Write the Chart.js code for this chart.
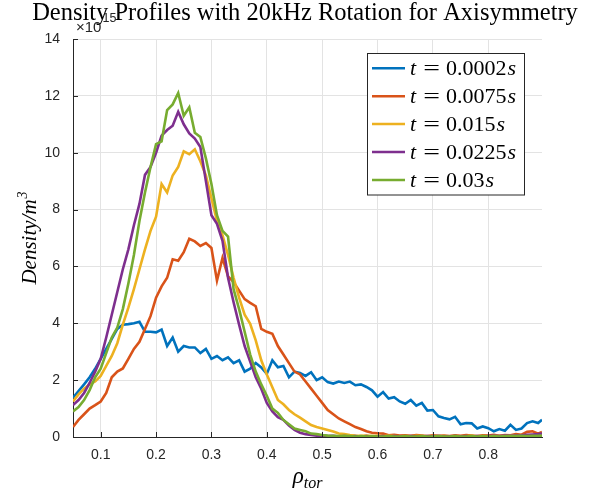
<!DOCTYPE html>
<html>
<head>
<meta charset="utf-8">
<script src="https://cdn.jsdelivr.net/npm/chart.js@4.4.1/dist/chart.umd.min.js"></script>
<style>
  html, body { margin: 0; padding: 0; background: #fff; }
</style>
</head>
<body>
<canvas id="densityChart" width="604" height="498"></canvas>
<script>
// rho_tor sample positions
const rho = [
  0.05, 0.06, 0.07, 0.08, 0.09, 0.10, 0.11, 0.12, 0.13, 0.14,
  0.15, 0.16, 0.17, 0.18, 0.19, 0.20, 0.21, 0.22, 0.23, 0.24,
  0.25, 0.26, 0.27, 0.28, 0.29, 0.30, 0.31, 0.32, 0.33, 0.34,
  0.35, 0.36, 0.37, 0.38, 0.39, 0.40, 0.41, 0.42, 0.43, 0.44,
  0.45, 0.46, 0.47, 0.48, 0.49, 0.50, 0.51, 0.52, 0.53, 0.54,
  0.55, 0.56, 0.57, 0.58, 0.59, 0.60, 0.61, 0.62, 0.63, 0.64,
  0.65, 0.66, 0.67, 0.68, 0.69, 0.70, 0.71, 0.72, 0.73, 0.74,
  0.75, 0.76, 0.77, 0.78, 0.79, 0.80, 0.81, 0.82, 0.83, 0.84,
  0.85, 0.86, 0.87, 0.88, 0.89, 0.897
];

// density in units of 1e15 m^-3
const dens_t0002 = [
  1.38, 1.62, 1.85, 2.1, 2.4, 2.75, 3.1, 3.45, 3.8, 3.95,
  3.97, 4.0, 4.05, 3.7, 3.7, 3.68, 3.78, 3.2, 3.5, 3.0,
  3.2, 3.15, 3.15, 2.95, 3.1, 2.75, 2.85, 2.7, 2.8, 2.6,
  2.7, 2.3, 2.4, 2.6, 2.45, 2.22, 2.7, 2.45, 2.5, 2.1,
  2.3, 2.25, 2.15, 2.28, 2.0, 2.1, 1.93, 1.88, 1.95, 1.9,
  1.95, 1.82, 1.85, 1.76, 1.64, 1.42, 1.58, 1.35, 1.4, 1.25,
  1.17, 1.3, 1.1, 1.2, 0.93, 0.95, 0.73, 0.67, 0.62, 0.71,
  0.45, 0.49, 0.48, 0.3, 0.37, 0.31, 0.2, 0.28, 0.22, 0.43,
  0.25, 0.3, 0.49, 0.55, 0.49, 0.61
];
const dens_t0075 = [
  0.35, 0.6, 0.8, 1.0, 1.12, 1.25, 1.55, 2.1, 2.3, 2.41,
  2.75, 3.1, 3.35, 3.8, 4.25, 4.9, 5.3, 5.6, 6.25, 6.2,
  6.5, 6.97, 6.88, 6.72, 6.82, 6.65, 5.5, 6.3, 5.65, 5.45,
  5.15, 4.85, 4.72, 4.6, 3.8, 3.7, 3.63, 3.2, 2.9, 2.6,
  2.3, 2.2, 1.95, 1.7, 1.45, 1.2, 0.95, 0.8, 0.65, 0.55,
  0.45, 0.35, 0.28, 0.2, 0.15, 0.13, 0.12, 0.06, 0.08, 0.05,
  0.06, 0.04, 0.07, 0.05, 0.03, 0.06, 0.04, 0.05, 0.03, 0.06,
  0.04, 0.07, 0.05, 0.03, 0.06, 0.05, 0.08, 0.04, 0.07, 0.06,
  0.1, 0.08, 0.18, 0.2, 0.12, 0.18
];
const dens_t015 = [
  1.25, 1.5, 1.7, 1.85, 1.95, 2.15, 2.5, 2.85, 3.3, 3.95,
  4.55, 5.2, 5.9, 6.6, 7.25, 7.75, 8.9, 8.6, 9.2, 9.5,
  10.05, 9.95, 10.12, 9.7, 9.2, 8.4, 7.6, 7.1, 6.4, 5.6,
  4.9, 4.3, 3.98, 3.4, 2.7, 2.2, 1.75, 1.3, 1.15, 0.95,
  0.8, 0.68, 0.55, 0.42, 0.35, 0.3, 0.25, 0.19, 0.12, 0.1,
  0.07, 0.05, 0.04, 0.05, 0.03, 0.04, 0.03, 0.04, 0.03, 0.02,
  0.03, 0.02, 0.04, 0.03, 0.02, 0.03, 0.02, 0.03, 0.02, 0.03,
  0.02, 0.03, 0.04, 0.02, 0.03, 0.02, 0.03, 0.04, 0.03, 0.04,
  0.05, 0.04, 0.06, 0.05, 0.07, 0.06
];
const dens_t0225 = [
  1.12, 1.3, 1.55, 1.9, 2.3, 2.75, 3.5, 4.3, 5.1, 5.9,
  6.6, 7.45, 8.2, 9.22, 9.5, 10.0, 10.6, 10.8, 10.95, 11.44,
  11.0, 10.68, 10.5, 10.2, 9.0, 7.8, 7.5, 6.9, 5.6, 4.74,
  3.95, 3.2, 2.65, 2.1, 1.7, 1.2, 0.9, 0.7, 0.6, 0.4,
  0.25, 0.15, 0.1, 0.07, 0.05, 0.04, 0.03, 0.04, 0.02, 0.03,
  0.02, 0.03, 0.02, 0.03, 0.02, 0.02, 0.03, 0.02, 0.03, 0.02,
  0.02, 0.03, 0.02, 0.02, 0.03, 0.02, 0.03, 0.02, 0.02, 0.03,
  0.02, 0.03, 0.02, 0.03, 0.02, 0.03, 0.04, 0.03, 0.05, 0.04,
  0.05, 0.06, 0.08, 0.09, 0.1, 0.12
];
const dens_t03 = [
  0.9, 1.05, 1.3, 1.65, 2.1, 2.4, 2.95, 3.5, 3.85, 4.5,
  5.4, 6.4, 7.6, 8.6, 9.5, 10.3, 10.4, 11.5, 11.7, 12.1,
  11.3, 11.6, 10.7, 10.55, 9.8, 8.9, 7.8, 7.25, 7.05, 5.2,
  4.5, 3.7, 2.9, 2.3, 1.85, 1.45, 1.0, 0.85, 0.6, 0.45,
  0.3, 0.25, 0.2, 0.12, 0.1, 0.07, 0.05, 0.04, 0.03, 0.04,
  0.03, 0.02, 0.03, 0.02, 0.03, 0.02, 0.02, 0.03, 0.02, 0.02,
  0.03, 0.02, 0.02, 0.03, 0.02, 0.02, 0.03, 0.02, 0.02, 0.03,
  0.02, 0.02, 0.03, 0.02, 0.03, 0.02, 0.03, 0.02, 0.03, 0.03,
  0.03, 0.04, 0.03, 0.04, 0.04, 0.05
];

const times = ['0.0002', '0.0075', '0.015', '0.0225', '0.03'];
const series = [dens_t0002, dens_t0075, dens_t015, dens_t0225, dens_t03];
const colors = ['#0072BD', '#D95319', '#EDB120', '#7E2F8E', '#77AC30'];
const xTicks = [0.1, 0.2, 0.3, 0.4, 0.5, 0.6, 0.7, 0.8];
const yTicks = [0, 2, 4, 6, 8, 10, 12, 14];

const SERIF = '"Liberation Serif", "DejaVu Serif", serif';
const SANS = '"Liberation Sans", Arial, sans-serif';
const AXIS_COLOR = '#262626';

// title, axis labels, exponent, inward ticks, legend box (matlab look)
const matlabDecor = {
  id: 'matlabDecor',
  afterDraw(chart) {
    const ctx = chart.ctx;
    const area = chart.chartArea;
    const xs = chart.scales.x, ys = chart.scales.y;
    ctx.save();

    // inward ticks
    ctx.strokeStyle = AXIS_COLOR;
    ctx.lineWidth = 1;
    ctx.beginPath();
    yTicks.forEach(v => {
      const py = Math.round(ys.getPixelForValue(v)) + 0.5;
      ctx.moveTo(area.left, py);
      ctx.lineTo(area.left + 5, py);
    });
    xTicks.forEach(v => {
      const px = Math.round(xs.getPixelForValue(v)) + 0.5;
      ctx.moveTo(px, area.bottom);
      ctx.lineTo(px, area.bottom - 5);
    });
    ctx.stroke();

    // title
    ctx.fillStyle = '#000';
    ctx.textBaseline = 'alphabetic';
    ctx.textAlign = 'center';
    ctx.font = '24.5px ' + SERIF;
    ctx.fillText('Density Profiles with 20kHz Rotation for Axisymmetry', 305, 20);

    // exponent label
    ctx.fillStyle = AXIS_COLOR;
    ctx.textAlign = 'left';
    ctx.font = '15px ' + SANS;
    ctx.fillText('\u00d710', 76, 32);
    const wx = ctx.measureText('\u00d710').width;
    ctx.font = '12.5px ' + SANS;
    ctx.fillText('15', 76 + wx + 1, 22);

    // y label
    ctx.fillStyle = '#000';
    ctx.save();
    ctx.translate(36, (area.top + area.bottom) / 2);
    ctx.rotate(-Math.PI / 2);
    ctx.font = 'italic 21px ' + SERIF;
    const w1 = ctx.measureText('Density/m').width;
    ctx.font = 'italic 14px ' + SERIF;
    const w2 = ctx.measureText('3').width;
    const start = -(w1 + w2 + 1) / 2;
    ctx.font = 'italic 21px ' + SERIF;
    ctx.fillText('Density/m', start, 0);
    ctx.font = 'italic 14px ' + SERIF;
    ctx.fillText('3', start + w1 + 1, -9);
    ctx.restore();

    // x label
    const cx = (area.left + area.right) / 2;
    ctx.font = 'italic 23px ' + SERIF;
    const wr = ctx.measureText('\u03c1').width;
    ctx.font = 'italic 16px ' + SERIF;
    const wt = ctx.measureText('tor').width;
    const sx = cx - (wr + wt) / 2;
    ctx.font = 'italic 23px ' + SERIF;
    ctx.fillText('\u03c1', sx, 483);
    ctx.font = 'italic 16px ' + SERIF;
    ctx.fillText('tor', sx + wr, 488);

    // legend
    const lx = 367.5, ly = 53.5, lw = 157, lh = 141.5;
    ctx.fillStyle = '#fff';
    ctx.fillRect(lx, ly, lw, lh);
    ctx.strokeStyle = AXIS_COLOR;
    ctx.lineWidth = 1;
    ctx.strokeRect(lx, ly, lw, lh);
    chart.data.datasets.forEach((ds, i) => {
      const rowY = 68.3 + i * 27.9;
      ctx.strokeStyle = ds.borderColor;
      ctx.lineWidth = 2.5;
      ctx.beginPath();
      ctx.moveTo(372, rowY);
      ctx.lineTo(405, rowY);
      ctx.stroke();
      const by = rowY + 7;
      ctx.fillStyle = '#000';
      ctx.textAlign = 'left';
      ctx.font = 'italic 22px ' + SERIF;
      ctx.fillText('t', 410, by);
      ctx.font = '22px ' + SERIF;
      ctx.save();
      ctx.translate(431.5, by);
      ctx.scale(1.35, 1);
      ctx.textAlign = 'center';
      ctx.fillText('=', 0, 0);
      ctx.restore();
      ctx.textAlign = 'left';
      ctx.fillText(times[i], 446, by);
      const wn = ctx.measureText(times[i]).width;
      ctx.font = 'italic 22px ' + SERIF;
      ctx.fillText('s', 446 + wn + 1, by);
    });

    ctx.restore();
  }
};

new Chart(document.getElementById('densityChart'), {
  type: 'line',
  data: {
    datasets: series.map((vals, i) => ({
      label: 't = ' + times[i] + 's',
      data: rho.map((x, j) => ({x: x, y: vals[j]})),
      borderColor: colors[i],
      backgroundColor: colors[i],
      borderWidth: 2.6,
      pointRadius: 0,
      tension: 0,
      fill: false,
      order: series.length - 1 - i
    }))
  },
  options: {
    responsive: false,
    animation: false,
    events: [],
    layout: {padding: {top: 39, right: 62, bottom: 0, left: 0}},
    plugins: {
      legend: {display: false},
      title: {display: false},
      tooltip: {enabled: false}
    },
    scales: {
      x: {
        type: 'linear',
        min: 0.05,
        max: 0.897,
        afterBuildTicks: s => { s.ticks = xTicks.map(v => ({value: v})); },
        afterFit: s => { s.height = 61; },
        ticks: {
          autoSkip: false,
          maxRotation: 0,
          padding: 10,
          color: AXIS_COLOR,
          font: {family: SANS, size: 14},
          callback: v => v.toFixed(1)
        },
        grid: {color: '#e3e3e3', drawTicks: false},
        border: {display: true, color: AXIS_COLOR, width: 1}
      },
      y: {
        min: 0,
        max: 14,
        afterBuildTicks: s => { s.ticks = yTicks.map(v => ({value: v})); },
        afterFit: s => { s.width = 73; },
        ticks: {
          autoSkip: false,
          padding: 13,
          color: AXIS_COLOR,
          font: {family: SANS, size: 14}
        },
        grid: {color: '#e3e3e3', drawTicks: false},
        border: {display: true, color: AXIS_COLOR, width: 1}
      }
    }
  },
  plugins: [matlabDecor]
});
</script>
</body>
</html>
